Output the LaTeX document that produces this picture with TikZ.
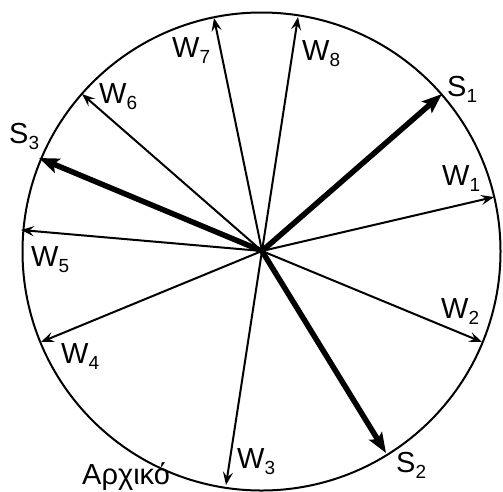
\documentclass[tikz,border=0pt]{standalone}
\usepackage{fontspec}
\setmainfont{Liberation Sans}
\usetikzlibrary{arrows.meta}
\newcommand\lblsub[2]{#1\raisebox{-6pt}{\fontsize{19}{19}\selectfont #2}}
\tikzset{
  thinarrow/.style={line width=2pt, -{Stealth[length=13pt,width=10pt,inset=5pt]}},
  thickarrow/.style={line width=5.5pt, -{Stealth[length=20pt,width=15pt,inset=4pt]}},
  lbl/.style={anchor=base west, inner sep=0pt, font=\fontsize{29}{31}\selectfont},
}
\begin{document}
\begin{tikzpicture}[x=1pt,y=-1pt]
\useasboundingbox (0,0) rectangle (503,491);
\coordinate (O) at (262,251);
\node[circle, draw, line width=2pt, minimum size=478pt, inner sep=0pt] (c) at (261.5,251.5) {};
\coordinate (w1) at (494,197);
\coordinate (w2) at (482,342);
\coordinate (w3) at (226,485);
\coordinate (w4) at (41,342);
\coordinate (w5) at (21,230);
\coordinate (w6) at (82,94);
\coordinate (w7) at (214,18);
\coordinate (w8) at (298,17);
\coordinate (s1) at (442,94);
\coordinate (s2) at (386,453);
\coordinate (s3) at (39,158);
\foreach \t in {w1,w2,w3,w4,w5,w6,w7,w8}
  \draw[thinarrow] (O) -- (\t);
\foreach \t in {s1,s2,s3}
  \draw[thickarrow] (O) -- (\t);
\node[lbl] (lw1) at (442,185) {\lblsub{W}{1}};
\node[lbl] (lw2) at (441,318) {\lblsub{W}{2}};
\node[lbl] (lw3) at (237,468) {\lblsub{W}{3}};
\node[lbl] (lw4) at (61,363) {\lblsub{W}{4}};
\node[lbl] (lw5) at (31,266) {\lblsub{W}{5}};
\node[lbl] (lw6) at (99,103) {\lblsub{W}{6}};
\node[lbl] (lw7) at (172,57) {\lblsub{W}{7}};
\node[lbl] (lw8) at (302,60) {\lblsub{W}{8}};
\node[lbl] (ls1) at (447,96) {\lblsub{S}{1}};
\node[lbl] (ls2) at (396,472) {\lblsub{S}{2}};
\node[lbl] (ls3) at (9,143) {\lblsub{S}{3}};
\node[lbl] (arx) at (82,484) {Αρχικό};
\end{tikzpicture}
\end{document}
